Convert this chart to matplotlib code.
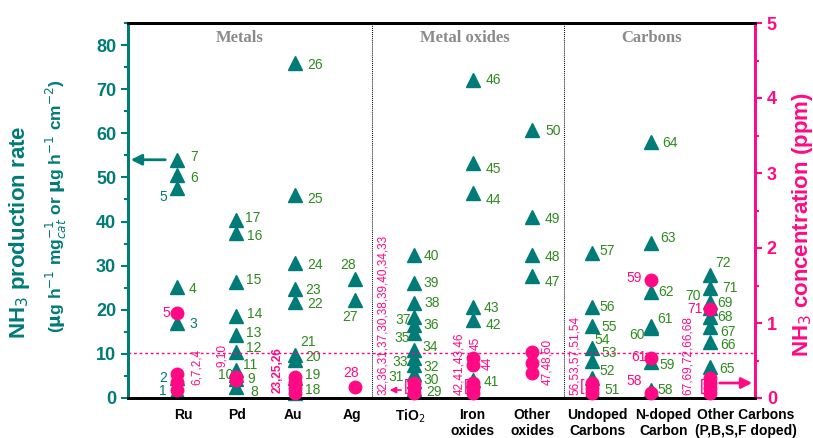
import matplotlib.pyplot as plt
from matplotlib.ticker import MultipleLocator

TEAL = '#007b78'
PINK = '#ff0a84'
GREEN = '#2e8b1e'
GRAY = '#8a8a8a'

plt.rcParams['font.family'] = ['Liberation Sans', 'DejaVu Sans']

categories = ['Ru', 'Pd', 'Au', 'Ag', 'TiO$_2$', 'Iron\noxides', 'Other\noxides',
              'Undoped\nCarbons', 'N-doped\nCarbon', 'Other Carbons\n(P,B,S,F doped)']
sections = ['Metals', 'Metal oxides', 'Carbons']

# NH3 production rate (left axis): reference number, category, value
rate_ref = list(range(1, 73))
rate_cat = [0] * 7 + [1] * 10 + [2] * 9 + [3] * 2 + [4] * 12 + [5] * 6 + [6] * 4 \
    + [7] * 7 + [8] * 7 + [9] * 8
rate_val = [1.5, 4.5, 17, 25.2, 47.5, 50.5, 54,
            2.6, 4.3, 5.3, 6.3, 10.4, 14.2, 18.7, 26.3, 37.4, 40.3,
            1.2, 4.5, 8.6, 9.7, 21.8, 24.7, 30.6, 46, 76,
            22.2, 27,
            2.0, 3.8, 5.5, 7.5, 9.0, 10.9, 14.7, 16.5, 18.4, 21.5, 26, 32.4,
            4.1, 17.7, 20.6, 46.5, 53.3, 72.1,
            27.7, 32.4, 41, 60.8,
            1.5, 4.5, 8.4, 11.3, 16.3, 20.6, 32.9,
            1.8, 8.2, 15.8, 16.3, 24, 35.1, 58,
            7.0, 12.7, 16.1, 18.4, 20.5, 21.8, 25, 27.9]

# NH3 concentration (right axis, ppm)
conc_cat = [0, 0, 0, 0, 1, 1, 2, 2, 2, 2, 3, 4, 4, 4, 5, 5, 5, 5, 5,
            6, 6, 6, 7, 7, 7, 8, 8, 8, 9, 9, 9, 9, 9]
conc_val = [1.13, 0.32, 0.21, 0.11, 0.28, 0.24, 0.28, 0.21, 0.14, 0.07, 0.15,
            0.2, 0.13, 0.07, 0.53, 0.44, 0.2, 0.13, 0.07,
            0.61, 0.47, 0.33, 0.2, 0.13, 0.07, 1.58, 0.53, 0.07,
            1.19, 0.27, 0.2, 0.13, 0.07]
conc_ref = ['5', '', '', '', '', '', '', '', '', '', '28',
            '', '', '', '', '', '', '', '',
            '', '', '', '', '', '', '59', '61', '58',
            '71', '', '', '', '']

# grouped reference numbers written vertically
group_text = ['6,7,2,4', '9,10', '23,25,26', '32,36,31,37,30,38,39,40,34,33',
              '42,41,43,46', '45', '44', '47,48,50', '56,53,57,51,54',
              '67,69,72,66,68']
group_cat = [0, 1, 2, 4, 5, 5, 5, 6, 7, 9]

# --- label placement (pixels: dx, dy, ha) ---
rate_pos = {
    7: (13, 3), 6: (13, -3), 5: (-10, -9, 'right'), 4: (12, -2), 3: (12, -1),
    2: (-10, 0, 'right'), 1: (-10, 0, 'right'),
    17: (9, 2), 16: (11, -3), 15: (10, 2), 14: (11, 2), 13: (10, 2), 12: (10, 4),
    11: (7, 5), 10: (-3, 0, 'right'), 9: (11, 0), 8: (14, -5),
    26: (12, -2), 25: (12, -4), 24: (12, -2), 23: (10, -1), 22: (12, -2),
    21: (5, 13), 20: (10, 3), 19: (10, 3), 18: (10, 3),
    28: (-7, 14, 'center'), 27: (-5, -17, 'center'),
    40: (10, -1), 39: (10, 0), 38: (11, 0), 37: (-3, -3, 'right'), 36: (10, 0),
    35: (-4, -5, 'right'), 34: (9, 3), 33: (-6, -4, 'right'), 32: (10, -2),
    31: (-10, -3, 'right'), 30: (10, 1), 29: (12, -3),
    46: (13, 0), 45: (13, -6), 44: (13, -7), 43: (11, -1), 42: (13, -5), 41: (11, -2),
    50: (13, -1), 49: (12, -2), 48: (12, -2), 47: (12, -6),
    57: (8, 2), 56: (8, 0), 55: (10, -1), 54: (3, 8), 53: (10, 8), 52: (8, 7), 51: (13, 1),
    64: (11, -1), 63: (9, 5), 62: (7, 0), 61: (6, 7), 60: (-6, -7, 'right'),
    59: (9, -3), 58: (7, 0),
    72: (5, 12), 71: (12, 0), 70: (-9, 6, 'right'), 69: (7, 5), 68: (7, 0),
    67: (10, -5), 66: (10, -3), 65: (9, -2),
}
teal_labels = [1, 2, 3, 5]
conc_pos = {'5': (-7, 0), '28': (-4, 14), '59': (-9, 2), '61': (-4, 1),
            '58': (-9, 12), '71': (-7, 0)}
# dx (pixels), bottom (left-axis units), bold
group_pos = [(20, 2.9, False), (-14, 7.0, False), (-18, 1.1, True), (-31, 0.7, False),
             (-14, 0.7, False), (3, 10.9, False), (15, 6.3, False), (15, 2.9, False),
             (-17, 0.7, False), (-22, 0.7, False)]
label_x = [1.10, 2.02, 2.95, 3.95, 4.93, 5.99, 7.0, 8.1, 9.21, 10.6]
section_x = [2.06, 5.86, 9.02]

PT = 0.72  # points per pixel
PX = 1 / 59.2  # x data units per pixel

fig = plt.figure(figsize=(8.13, 4.38), dpi=100)
ax = fig.add_axes([128 / 813, 1 - 398 / 438, 627 / 813, 375 / 438])
ax2 = ax.twinx()

xs = [c + 1 for c in rate_cat]
ax.plot(xs, rate_val, '^', ms=10, color=TEAL, ls='none', clip_on=False, zorder=3)
cx = [c + 1 for c in conc_cat]
ax2.plot(cx, conc_val, 'o', ms=9, color=PINK, ls='none', clip_on=False, zorder=3)

for ref, x, v in zip(rate_ref, xs, rate_val):
    p = rate_pos.get(ref, (11, 0))
    ha = p[2] if len(p) > 2 else 'left'
    col = TEAL if ref in teal_labels else GREEN
    ax.annotate(str(ref), (x, v), xytext=(p[0] * PT, p[1] * PT),
                textcoords='offset points', ha=ha, va='center',
                fontsize=10, color=col)

for ref, x, v in zip(conc_ref, cx, conc_val):
    if not ref:
        continue
    p = conc_pos[ref]
    ha = 'center' if ref == '28' else 'right'
    ax2.annotate(ref, (x, v), xytext=(p[0] * PT, p[1] * PT),
                 textcoords='offset points', ha=ha, va='center',
                 fontsize=10, color=PINK, zorder=5)

for t, c, (dx, b, bold) in zip(group_text, group_cat, group_pos):
    ax.text(c + 1 + dx * PX, b, t, rotation=90, ha='center', va='bottom',
            fontsize=8.5, color=PINK, fontweight='bold' if bold else 'normal')

for c, dx in [(4, -8), (5, -7), (7, -9), (9, -8)]:
    ax.text(c + 1 + dx * PX, 2.5, '[', ha='center', va='center',
            fontsize=12, color=PINK)

# arrows
ax.annotate('', xy=(0, 54), xycoords=('axes fraction', 'data'),
            xytext=(1 - 9 * PX, 54), textcoords='data',
            arrowprops=dict(arrowstyle='-|>', color=TEAL, lw=2, mutation_scale=16))
ax.annotate('', xy=(5 - 27 * PX, 1.8), xytext=(5 - 10 * PX, 1.8),
            arrowprops=dict(arrowstyle='-|>', color=PINK, lw=1.2, mutation_scale=9))
ax2.annotate('', xy=(1, 0.2), xycoords=('axes fraction', 'data'),
             xytext=(10 + 7 * PX, 0.2), textcoords='data',
             arrowprops=dict(arrowstyle='-|>', color=PINK, lw=2, mutation_scale=16))

ax2.axhline(0.6, color=PINK, ls=(0, (2, 2)), lw=1)
for xv in [4.29, 7.54]:
    ax.axvline(xv, color='k', ls=(0, (1, 1)), lw=0.7)

for t, xv in zip(sections, section_x):
    ax.text(xv, 81.6, t, ha='center', va='center', fontsize=12, color=GRAY,
            fontweight='bold', family='Liberation Serif')

for t, xv in zip(categories, label_x):
    ax.annotate(t, (xv, 0), xycoords=('data', 'axes fraction'), xytext=(0, -7),
                textcoords='offset points', ha='center', va='top', fontsize=10,
                fontweight='bold', linespacing=1.25)

ax.set_xlim(0.172, 10.76)
ax.set_ylim(0, 85)
ax2.set_ylim(0, 5)
ax.set_xticks([])

ax.yaxis.set_major_locator(MultipleLocator(10))
ax.yaxis.set_minor_locator(MultipleLocator(5))
ax2.yaxis.set_major_locator(MultipleLocator(1))
ax2.yaxis.set_minor_locator(MultipleLocator(0.5))
ax.tick_params(axis='y', which='both', colors=TEAL, width=1.5, labelsize=13)
ax.tick_params(axis='y', which='major', length=5)
ax.tick_params(axis='y', which='minor', length=3)
ax2.tick_params(axis='y', which='both', colors=PINK, width=1.5, labelsize=13)
ax2.tick_params(axis='y', which='major', length=5)
ax2.tick_params(axis='y', which='minor', length=3)
for lab in ax.get_yticklabels() + ax2.get_yticklabels():
    lab.set_fontweight('bold')

for a in (ax, ax2):
    for s in a.spines.values():
        s.set_linewidth(2)
    a.spines['top'].set_color('k')
    a.spines['bottom'].set_color('k')
ax.spines['left'].set_color(TEAL)
ax2.spines['left'].set_color(TEAL)
ax2.spines['right'].set_color(PINK)
ax.spines['right'].set_color(PINK)

fig.text(20 / 813, 1 - 232 / 438, 'NH$_3$ production rate', rotation=90,
         ha='center', va='center', fontsize=16, fontweight='bold', color=TEAL)
fig.text(56 / 813, 1 - 206 / 438,
         '($\\mathbf{\\mu}$g h$^{-1}$ mg$^{-1}_{cat}$ or $\\mathbf{\\mu}$g h$^{-1}$ cm$^{-2}$)',
         rotation=90, ha='center', va='center', fontsize=12.5, fontweight='bold', color=TEAL)
fig.text(802 / 813, 1 - 225 / 438, 'NH$_3$ concentration (ppm)', rotation=90,
         ha='center', va='center', fontsize=16, fontweight='bold', color=PINK)

fig.savefig('out.png', dpi=100)
